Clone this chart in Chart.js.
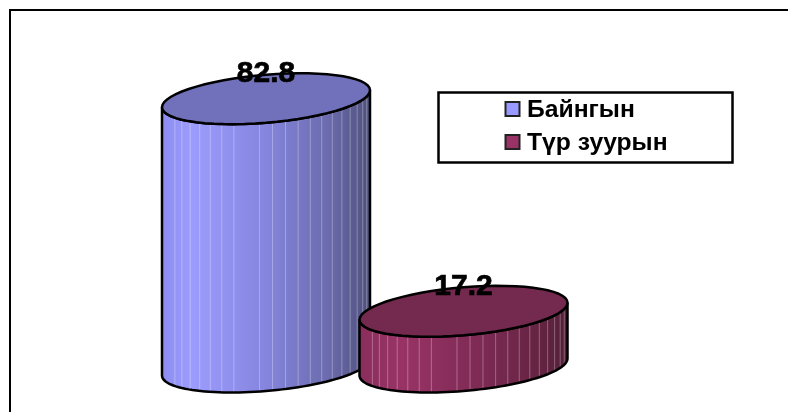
<!DOCTYPE html>
<html>
<head>
<meta charset="utf-8">
<script src="https://cdn.jsdelivr.net/npm/chart.js@4"></script>
<style>
  html, body { margin: 0; padding: 0; background: #fff; overflow: hidden; }
  canvas { display: block; }
</style>
</head>
<body>
<canvas id="chart" width="788" height="412"></canvas>
<script>
// Values
const categories = ['Байнгын', 'Түр зуурын'];
const values = [82.8, 17.2];

// Colours per category
const swatchColors = ['#9999ff', '#993366'];
const topColors = ['#7171bb', '#74294f'];
const sideStops = [
    [[0, '#8d8df0'], [0.14, '#9c9cff'], [0.5, '#8585de'], [0.8, '#6b6bad'], [1, '#50507d']],
    [[0, '#8a2e5c'], [0.2, '#993366'], [0.55, '#802b56'], [0.85, '#662443'], [1, '#54203a']]
];

const FACETS = 25;
const TILT = -8.5;    // the ellipse right end sits above its left end
const DEPTH = 24;

// Point on the cylinder rim, t = 0 right end, t = PI/2 front, t = PI left end
function rim(cx, cy, rx, t) {
    return [cx + rx * Math.cos(t), cy + TILT * Math.cos(t) + DEPTH * Math.sin(t)];
}

function traceArc(ctx, cx, cy, rx, from, to, move) {
    const steps = 60;
    for (let i = 0; i <= steps; i++) {
        const p = rim(cx, cy, rx, from + (to - from) * i / steps);
        if (i === 0 && move) ctx.moveTo(p[0], p[1]);
        else ctx.lineTo(p[0], p[1]);
    }
}

// Plugin: turns each bar into a cylinder and adds the frame, labels and legend
const cylinderPlugin = {
    id: 'cylinderPlugin',
    beforeDraw(chart) {
        const { ctx, width, height } = chart;
        ctx.save();
        ctx.strokeStyle = '#000';
        ctx.lineWidth = 2;
        ctx.beginPath();
        ctx.moveTo(10, height);
        ctx.lineTo(10, 10);
        ctx.lineTo(width, 10);
        ctx.stroke();
        ctx.restore();
    },
    afterDatasetsDraw(chart) {
        const { ctx } = chart;
        const bars = chart.getDatasetMeta(0).data;

        bars.forEach((bar, index) => {
            const rx = bar.width / 2;
            const left = bar.x - rx;
            ctx.save();

            // Side
            const grad = ctx.createLinearGradient(left, 0, left + bar.width, 0);
            sideStops[index].forEach(s => grad.addColorStop(s[0], s[1]));
            ctx.beginPath();
            traceArc(ctx, bar.x, bar.base, rx, Math.PI, 0, true);
            traceArc(ctx, bar.x, bar.y, rx, 0, Math.PI, false);
            ctx.closePath();
            ctx.fillStyle = grad;
            ctx.fill();

            // Light facet lines, none on the far left and one gap left of centre
            ctx.strokeStyle = 'rgba(255,255,255,0.3)';
            ctx.lineWidth = 1;
            for (let k = 4; k < FACETS - 1; k++) {
                if (k === 11) continue;
                const t = Math.PI - k * Math.PI / FACETS;
                const a = rim(bar.x, bar.y, rx, t);
                const b = rim(bar.x, bar.base, rx, t);
                ctx.beginPath();
                ctx.moveTo(a[0], a[1]);
                ctx.lineTo(b[0], b[1]);
                ctx.stroke();
            }

            ctx.strokeStyle = '#000';
            ctx.lineWidth = 2.5;
            ctx.beginPath();
            traceArc(ctx, bar.x, bar.base, rx, Math.PI, 0, true);
            traceArc(ctx, bar.x, bar.y, rx, 0, Math.PI, false);
            ctx.closePath();
            ctx.stroke();

            // Top
            ctx.beginPath();
            traceArc(ctx, bar.x, bar.y, rx, 0, Math.PI * 2, true);
            ctx.closePath();
            ctx.fillStyle = topColors[index];
            ctx.fill();
            ctx.stroke();
            ctx.restore();
        });

        // Value labels
        ctx.save();
        ctx.fillStyle = '#000';
        ctx.strokeStyle = '#000';
        ctx.lineWidth = 0.7;
        ctx.font = 'bold 30px "Liberation Sans", Arial, sans-serif';
        ctx.textAlign = 'center';
        ctx.textBaseline = 'middle';
        bars.forEach((bar, index) => {
            const label = values[index].toFixed(1);
            ctx.fillText(label, bar.x, bar.y - 25);
            ctx.strokeText(label, bar.x, bar.y - 25);
        });
        ctx.restore();

        // Legend
        ctx.save();
        ctx.fillStyle = '#fff';
        ctx.strokeStyle = '#000';
        ctx.lineWidth = 2.5;
        ctx.fillRect(438.5, 92.5, 294, 70);
        ctx.strokeRect(438.5, 92.5, 294, 70);
        ctx.font = 'bold 24.7px "Liberation Sans", Arial, sans-serif';
        ctx.textAlign = 'left';
        ctx.textBaseline = 'alphabetic';
        categories.forEach((name, index) => {
            const rowY = 102 + index * 33;
            ctx.fillStyle = swatchColors[index];
            ctx.fillRect(505.5, rowY, 14, 14);
            ctx.lineWidth = 2;
            ctx.strokeStyle = '#222';
            ctx.strokeRect(505.5, rowY, 14, 14);
            ctx.fillStyle = '#000';
            ctx.fillText(name, 527, rowY + 15);
        });
        ctx.restore();
    }
};

new Chart(document.getElementById('chart').getContext('2d'), {
    type: 'bar',
    data: {
        labels: categories,
        datasets: [{
            data: values,
            backgroundColor: 'transparent',
            borderWidth: 0,
            barThickness: 208
        }]
    },
    options: {
        responsive: false,
        animation: false,
        devicePixelRatio: 1,
        layout: { padding: { left: 167.25, right: 225.75, top: 43, bottom: 45 } },
        plugins: {
            legend: { display: false },
            tooltip: { enabled: false }
        },
        scales: {
            x: { display: false, grid: { display: false } },
            y: { display: false, min: 0, max: 100 }
        }
    },
    plugins: [cylinderPlugin]
});
</script>
</body>
</html>
